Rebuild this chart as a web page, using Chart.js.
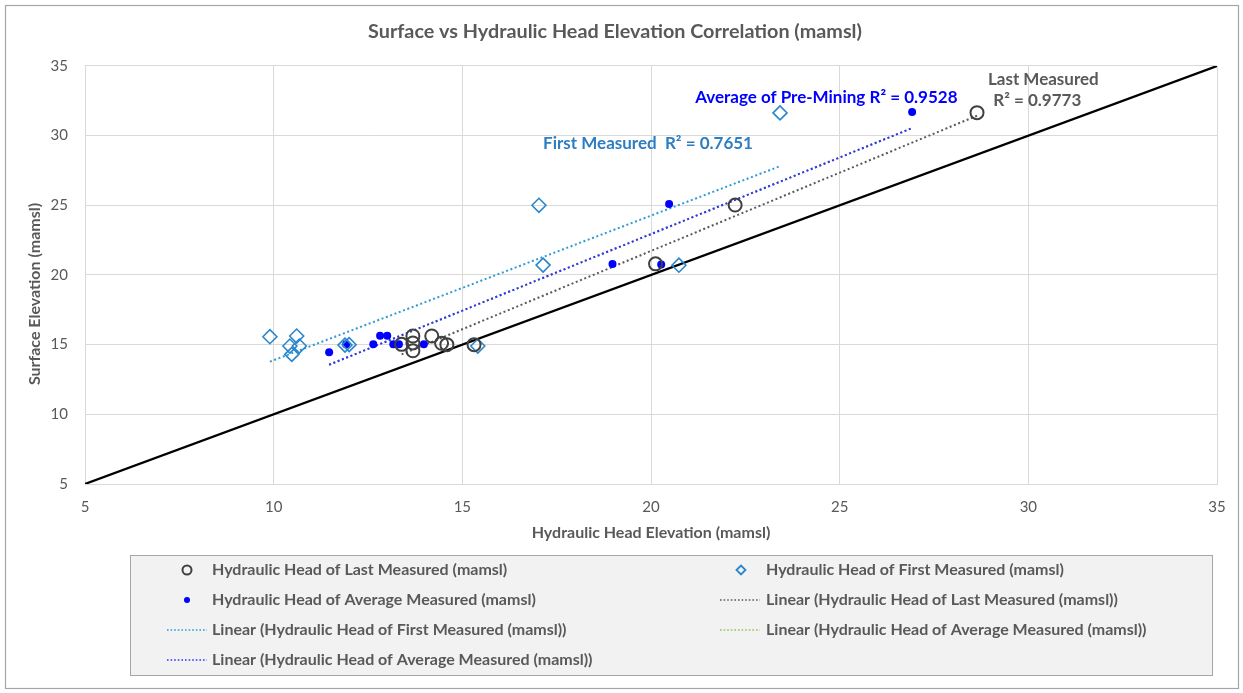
<!DOCTYPE html>
<html>
<head>
<meta charset="utf-8">
<title>Surface vs Hydraulic Head Elevation Correlation</title>
<script src="https://cdn.jsdelivr.net/npm/chart.js@4.4.1/dist/chart.umd.min.js"></script>
<style>
  html, body { margin: 0; padding: 0; background: #ffffff; }
  #wrap { position: relative; width: 1243px; height: 693px; }
  canvas { display: block; }
</style>
</head>
<body>
<div id="wrap"><canvas id="chart" width="1243" height="693"></canvas></div>
<script>
// Hydraulic head (x) against surface elevation (y), both in mamsl
const lastHead    = [28.64, 22.23, 20.12, 13.69, 14.19, 13.69, 13.39, 13.69, 14.45, 14.59, 15.31];
const lastSurface = [31.65, 25.02, 20.80, 15.62, 15.62, 15.12, 15.02, 14.56, 15.10, 15.00, 15.00];

const firstHead    = [23.42, 17.03, 17.14, 20.74, 15.41, 9.90, 10.61, 10.43, 10.68, 10.48, 11.89, 12.00];
const firstSurface = [31.63, 25.00, 20.71, 20.70, 14.90, 15.57, 15.62, 14.90, 14.90, 14.30, 14.97, 15.00];

const avgHead    = [26.92, 20.48, 18.98, 20.27, 11.47, 11.92, 12.64, 12.82, 13.01, 13.17, 13.32, 13.98];
const avgSurface = [31.70, 25.09, 20.79, 20.75, 14.45, 15.02, 15.02, 15.64, 15.64, 15.02, 15.02, 15.02];

// 1:1 reference line
const oneToOne = [5, 35];

const axisTicks = [5, 10, 15, 20, 25, 30, 35];

const seriesNames = {
  last: 'Hydraulic Head of Last Measured (mamsl)',
  first: 'Hydraulic Head of First Measured (mamsl)',
  avg: 'Hydraulic Head of Average Measured (mamsl)'
};

const fitLabels = [
  { lines: ['Last Measured', 'R\u00b2 = 0.9773'] },
  { lines: ['Average of Pre-Mining R\u00b2 = 0.9528'] },
  { lines: ['First Measured  R\u00b2 = 0.7651'] }
];

const yAxisTitle = 'Surface Elevation (mamsl)';

const COLORS = {
  text: '#595959',
  grid: '#d9d9d9',
  last: '#404040',
  first: '#2a86cc',
  firstText: '#2e7dc2',
  avg: '#0000ff',
  lastFit: '#5a5a5a',
  firstFit: '#2e9bd6',
  avgFit: '#3030ff',
  avgFitAlt: '#92c35a'
};

const FONT = "Lato, 'Open Sans', 'Liberation Sans', sans-serif";

function toPoints(xs, ys) {
  return xs.map((x, i) => ({ x: x, y: ys[i] }));
}

// Least-squares trendline over the x range of a series
function linearFit(xs, ys) {
  const n = xs.length;
  const mx = xs.reduce((a, b) => a + b, 0) / n;
  const my = ys.reduce((a, b) => a + b, 0) / n;
  let sxy = 0, sxx = 0;
  for (let i = 0; i < n; i++) {
    sxy += (xs[i] - mx) * (ys[i] - my);
    sxx += (xs[i] - mx) * (xs[i] - mx);
  }
  const slope = sxy / sxx;
  const icpt = my - slope * mx;
  const x0 = Math.min.apply(null, xs), x1 = Math.max.apply(null, xs);
  return [{ x: x0, y: icpt + slope * x0 }, { x: x1, y: icpt + slope * x1 }];
}

const dotted = { borderWidth: 2, borderDash: [2, 2.6], pointRadius: 0, showLine: true, fill: false };

const datasets = [
  {
    label: seriesNames.last, data: toPoints(lastHead, lastSurface), order: 0,
    pointStyle: 'circle', pointRadius: 6.5, borderWidth: 2,
    borderColor: COLORS.last, backgroundColor: 'rgba(0,0,0,0)', showLine: false
  },
  {
    label: seriesNames.first, data: toPoints(firstHead, firstSurface), order: 0,
    pointStyle: 'rectRot', pointRadius: 7, borderWidth: 1.6,
    borderColor: COLORS.first, backgroundColor: 'rgba(0,0,0,0)', showLine: false
  },
  {
    label: seriesNames.avg, data: toPoints(avgHead, avgSurface), order: 0,
    pointStyle: 'circle', pointRadius: 4, borderWidth: 0,
    borderColor: COLORS.avg, backgroundColor: COLORS.avg, showLine: false
  },
  Object.assign({ label: 'Linear (' + seriesNames.last + ')', data: linearFit(lastHead, lastSurface),
    borderColor: COLORS.lastFit, order: 2 }, dotted),
  Object.assign({ label: 'Linear (' + seriesNames.first + ')', data: linearFit(firstHead, firstSurface),
    borderColor: COLORS.firstFit, order: 2 }, dotted),
  Object.assign({ label: 'Linear (' + seriesNames.avg + ')', data: linearFit(avgHead, avgSurface),
    borderColor: COLORS.avgFitAlt, order: 4 }, dotted),
  Object.assign({ label: 'Linear (' + seriesNames.avg + ')', data: linearFit(avgHead, avgSurface),
    borderColor: COLORS.avgFit, order: 2 }, dotted),
  {
    label: '1:1', data: oneToOne.map(v => ({ x: v, y: v })), order: 3,
    showLine: true, borderColor: '#000000', borderWidth: 2.2, pointRadius: 0, fill: false
  }
];

// Annotations, y-axis caption, the boxed legend and the outer frame
const decorations = {
  id: 'decorations',
  afterDatasetsDraw(chart) {
    const ctx = chart.ctx;
    const xs = chart.scales.x, ys = chart.scales.y;
    ctx.save();
    ctx.textBaseline = 'middle';
    ctx.textAlign = 'left';

    // trendline R² labels
    ctx.font = 'bold 17px ' + FONT;
    ctx.fillStyle = COLORS.text;
    ctx.fillText(fitLabels[0].lines[0], xs.getPixelForValue(28.93), ys.getPixelForValue(34.0));
    ctx.fillText(fitLabels[0].lines[1], xs.getPixelForValue(29.07), ys.getPixelForValue(32.5));
    ctx.fillStyle = COLORS.avg;
    ctx.fillText(fitLabels[1].lines[0], xs.getPixelForValue(21.17), ys.getPixelForValue(32.75));
    ctx.fillStyle = COLORS.firstText;
    ctx.fillText(fitLabels[2].lines[0], xs.getPixelForValue(17.14), ys.getPixelForValue(29.45));
    ctx.restore();
  },
  afterDraw(chart) {
    const ctx = chart.ctx;
    const H = Chart.helpers;
    ctx.save();

    // y-axis caption
    ctx.save();
    ctx.translate(35, 294);
    ctx.rotate(-Math.PI / 2);
    ctx.font = 'bold 16px ' + FONT;
    ctx.fillStyle = COLORS.text;
    ctx.textAlign = 'center';
    ctx.textBaseline = 'middle';
    ctx.fillText(yAxisTitle, 0, 0);
    ctx.restore();

    // legend box
    const box = { l: 130.5, t: 555.5, r: 1212.5, b: 675.5 };
    ctx.fillStyle = '#f2f2f2';
    ctx.fillRect(box.l, box.t, box.r - box.l, box.b - box.t);
    ctx.strokeStyle = '#a6a6a6';
    ctx.lineWidth = 1;
    ctx.strokeRect(box.l, box.t, box.r - box.l, box.b - box.t);

    const rowY = [570, 600, 630, 660];
    const col = [
      { mark: 187, lineL: 167, lineR: 207, text: 212 },
      { mark: 741, lineL: 720, lineR: 760, text: 766 }
    ];
    const items = [
      { c: 0, r: 0, kind: 'point', style: 'circle', radius: 4.5, stroke: COLORS.last, fill: 'rgba(0,0,0,0)', bw: 2, text: datasets[0].label },
      { c: 1, r: 0, kind: 'point', style: 'rectRot', radius: 4.5, stroke: COLORS.first, fill: 'rgba(0,0,0,0)', bw: 1.8, text: datasets[1].label },
      { c: 0, r: 1, kind: 'point', style: 'circle', radius: 3, stroke: COLORS.avg, fill: COLORS.avg, bw: 0, text: datasets[2].label },
      { c: 1, r: 1, kind: 'line', color: COLORS.lastFit, text: datasets[3].label },
      { c: 0, r: 2, kind: 'line', color: COLORS.firstFit, text: datasets[4].label },
      { c: 1, r: 2, kind: 'line', color: COLORS.avgFitAlt, text: datasets[5].label },
      { c: 0, r: 3, kind: 'line', color: COLORS.avgFit, text: datasets[6].label }
    ];
    ctx.font = 'bold 16px ' + FONT;
    ctx.textBaseline = 'middle';
    ctx.textAlign = 'left';
    items.forEach(it => {
      const cc = col[it.c], y = rowY[it.r];
      if (it.kind === 'point') {
        ctx.strokeStyle = it.stroke;
        ctx.fillStyle = it.fill;
        ctx.lineWidth = it.bw;
        H.drawPoint(ctx, { pointStyle: it.style, radius: it.radius, borderWidth: it.bw, rotation: 0 }, cc.mark, y);
      } else {
        ctx.strokeStyle = it.color;
        ctx.lineWidth = 1.6;
        ctx.setLineDash([1.6, 2]);
        ctx.beginPath();
        ctx.moveTo(cc.lineL, y);
        ctx.lineTo(cc.lineR, y);
        ctx.stroke();
        ctx.setLineDash([]);
      }
      ctx.fillStyle = COLORS.text;
      ctx.fillText(it.text, cc.text, y);
    });

    // outer frame
    ctx.strokeStyle = '#a6a6a6';
    ctx.lineWidth = 1.2;
    ctx.strokeRect(5.5, 5.5, 1233, 683);
    ctx.restore();
  }
};

Chart.defaults.font.family = FONT;
Chart.defaults.color = COLORS.text;

new Chart(document.getElementById('chart'), {
  type: 'scatter',
  data: { datasets: datasets },
  options: {
    responsive: false,
    devicePixelRatio: 1,
    animation: false,
    events: [],
    layout: { padding: { top: 10, right: 26, bottom: 144, left: 13 } },
    plugins: {
      legend: { display: false },
      tooltip: { enabled: false },
      title: {
        display: true,
        text: 'Surface vs Hydraulic Head Elevation Correlation (mamsl)',
        color: COLORS.text,
        font: { size: 19.8, weight: 'bold', family: FONT, lineHeight: 1.2 },
        padding: { top: 10.1, bottom: 22.1 }
      }
    },
    scales: {
      x: {
        type: 'linear',
        min: axisTicks[0], max: axisTicks[axisTicks.length - 1],
        afterBuildTicks: s => { s.ticks = axisTicks.map(v => ({ value: v })); },
        afterFit: s => { s.height = 65; },
        grid: { color: COLORS.grid, lineWidth: 1, drawTicks: false },
        border: { color: COLORS.grid, width: 1 },
        ticks: { color: COLORS.text, font: { size: 15 }, padding: 14 },
        title: {
          display: true, text: 'Hydraulic Head Elevation (mamsl)', color: COLORS.text,
          font: { size: 16, weight: 'bold' }, padding: { top: 7, bottom: 7 }
        }
      },
      y: {
        type: 'linear',
        min: axisTicks[0], max: axisTicks[axisTicks.length - 1],
        afterBuildTicks: s => { s.ticks = axisTicks.map(v => ({ value: v })); },
        afterFit: s => { s.width = 72; },
        grid: { color: COLORS.grid, lineWidth: 1, drawTicks: false },
        border: { color: COLORS.grid, width: 1 },
        ticks: { color: COLORS.text, font: { size: 15 }, padding: 17 },
        title: { display: false }
      }
    }
  },
  plugins: [decorations]
});
</script>
</body>
</html>
